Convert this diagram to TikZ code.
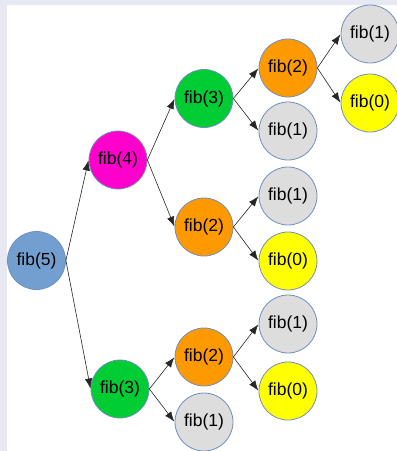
\documentclass[tikz,border=0pt]{standalone}
\usepackage{fontspec}
\setmainfont{Liberation Sans}
\usetikzlibrary{arrows.meta}
\definecolor{bgl}{HTML}{E8E8F3}
\definecolor{cblue}{HTML}{729FCF}
\definecolor{cmag}{HTML}{FF00CC}
\definecolor{cgreen}{HTML}{00CC33}
\definecolor{corange}{HTML}{FF9900}
\definecolor{cgrey}{HTML}{DDDDDD}
\definecolor{cyellow}{HTML}{FFFF00}
\definecolor{cbord}{HTML}{6F8FC0}
\begin{document}
\begin{tikzpicture}[x=1pt,y=-1pt,
  fnode/.style={circle,draw=cbord,line width=0.8pt,minimum size=58pt,inner sep=0pt,
    font=\fontsize{17.5}{20}\selectfont},
  arr/.style={draw=black!85,line width=0.6pt,-{Latex[length=10pt,width=7.5pt]},shorten >=0.5pt}]
\useasboundingbox (0,0) rectangle (397,451);
\fill[bgl] (0,0) rectangle (397,451);
\fill[white] (7,5) rectangle (397,451);
\begin{scope}
\clip (0,0) rectangle (397,451);
\node[fnode,fill=cblue] (n5) at (36.5,260.5) {fib(5)};
\node[fnode,fill=cmag] (n4) at (118,160) {fib(4)};
\node[fnode,fill=cgreen] (n3a) at (204,98.5) {fib(3)};
\node[fnode,fill=corange] (n2a) at (288,68) {fib(2)};
\node[fnode,fill=cgrey] (n1a) at (370,34) {fib(1)};
\node[fnode,fill=cyellow] (n0a) at (370,103) {fib(0)};
\node[fnode,fill=cgrey] (n1b) at (288,131) {fib(1)};
\node[fnode,fill=corange] (n2b) at (204,227) {fib(2)};
\node[fnode,fill=cgrey] (n1c) at (288,196) {fib(1)};
\node[fnode,fill=cyellow] (n0c) at (288,261) {fib(0)};
\node[fnode,fill=cgreen] (n3b) at (120,389) {fib(3)};
\node[fnode,fill=corange] (n2c) at (204,357) {fib(2)};
\node[fnode,fill=cgrey] (n1d) at (204,422) {fib(1)};
\node[fnode,fill=cgrey] (n1e) at (288,324) {fib(1)};
\node[fnode,fill=cyellow] (n0e) at (288,391) {fib(0)};
\end{scope}
\draw[arr] (n5.east) -- (n4.west);
\draw[arr] (n5.east) -- (n3b.west);
\draw[arr] (n4.east) -- (n3a.west);
\draw[arr] (n4.east) -- (n2b.west);
\draw[arr] (n3a.east) -- (n2a.west);
\draw[arr] (n3a.east) -- (n1b.west);
\draw[arr] (n2a.east) -- (n1a.west);
\draw[arr] (n2a.east) -- (n0a.west);
\draw[arr] (n2b.east) -- (n1c.west);
\draw[arr] (n2b.east) -- (n0c.west);
\draw[arr] (n3b.east) -- (n2c.west);
\draw[arr] (n3b.east) -- (n1d.west);
\draw[arr] (n2c.east) -- (n1e.west);
\draw[arr] (n2c.east) -- (n0e.west);
\end{tikzpicture}
\end{document}
